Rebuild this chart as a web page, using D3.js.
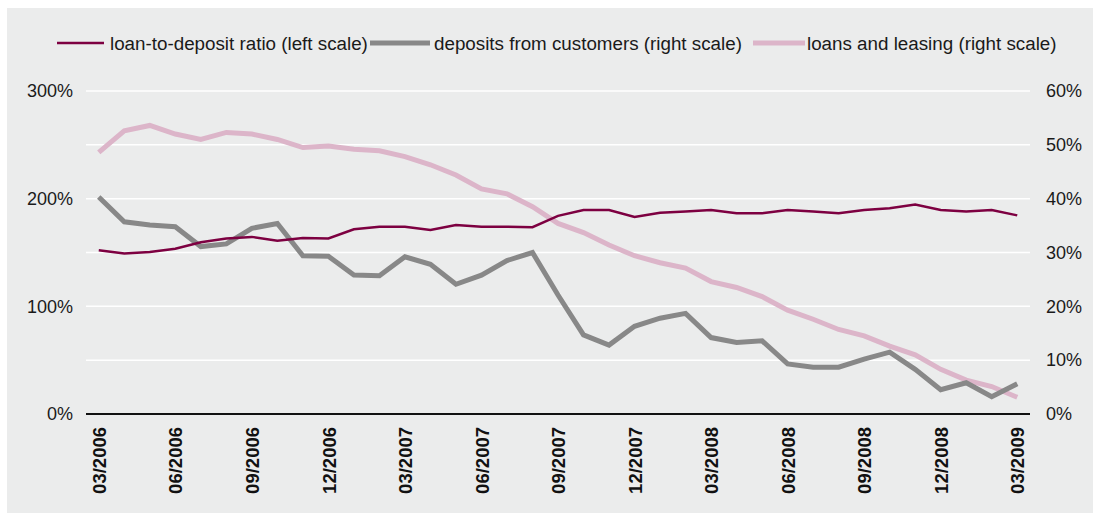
<!DOCTYPE html>
<html>
<head>
<meta charset="utf-8">
<script src="https://cdn.jsdelivr.net/npm/d3@7"></script>
<style>
  html, body { margin: 0; padding: 0; background: #ffffff; }
  svg { display: block; font-family: "Liberation Sans", Arial, Helvetica, sans-serif; }
</style>
</head>
<body>
<svg id="chart" width="1093" height="513"></svg>
<script>
// Monthly observations, 03/2006 – 03/2009
const months = [
  "03/2006","04/2006","05/2006","06/2006","07/2006","08/2006","09/2006","10/2006","11/2006","12/2006",
  "01/2007","02/2007","03/2007","04/2007","05/2007","06/2007","07/2007","08/2007","09/2007","10/2007",
  "11/2007","12/2007","01/2008","02/2008","03/2008","04/2008","05/2008","06/2008","07/2008","08/2008",
  "09/2008","10/2008","11/2008","12/2008","01/2009","02/2009","03/2009"
];
const tickLabels = ["03/2006","06/2006","09/2006","12/2006","03/2007","06/2007","09/2007","12/2007",
  "03/2008","06/2008","09/2008","12/2008","03/2009"];

// loan-to-deposit ratio, % (left scale)
const loanToDeposit = [
  152, 149, 150.5, 153.5, 159.5, 163, 164.5, 161, 163.5, 163,
  171.5, 174, 174, 171, 175.5, 174, 174, 173.5, 184, 189.5,
  189.5, 183, 187, 188, 189.5, 186.5, 186.5, 189.5, 188, 186.5,
  189.5, 191, 194.5, 189.5, 188, 189.5, 184.5
];
// deposits from customers, % (right scale)
const deposits = [
  40.3, 35.7, 35.1, 34.8, 31.1, 31.6, 34.5, 35.4, 29.4, 29.3,
  25.8, 25.7, 29.2, 27.8, 24.1, 25.8, 28.5, 30.0, 22.1, 14.7,
  12.8, 16.3, 17.8, 18.7, 14.2, 13.3, 13.6, 9.3, 8.7, 8.7,
  10.2, 11.5, 8.3, 4.5, 5.8, 3.2, 5.6
];
// loans and leasing, % (right scale)
const loans = [
  48.6, 52.6, 53.6, 52.0, 51.0, 52.3, 52.0, 51.0, 49.5, 49.8,
  49.2, 48.9, 47.8, 46.3, 44.4, 41.8, 40.9, 38.5, 35.4, 33.7,
  31.4, 29.4, 28.1, 27.1, 24.6, 23.5, 21.8, 19.3, 17.6, 15.7,
  14.5, 12.6, 11.0, 8.3, 6.3, 5.1, 3.1
];
const leftTicks = [0, 100, 200, 300];
const rightTicks = [0, 10, 20, 30, 40, 50, 60];
const gridTicks = [0, 10, 20, 30, 40, 50, 60];

const legendItems = [
  { label: "loan-to-deposit ratio (left scale)", color: "#7d0041", width: 2.5 },
  { label: "deposits from customers (right scale)", color: "#888888", width: 5 },
  { label: "loans and leasing (right scale)", color: "#dcb5c9", width: 5 }
];

const svg = d3.select("#chart");
const W = 1093, H = 513;
const plot = { left: 86, right: 1030, top: 91, bottom: 414 };

// panel background
svg.append("rect").attr("x", 7).attr("y", 8).attr("width", W - 7).attr("height", H - 8)
  .attr("fill", "#ebecec");

const x = d3.scalePoint().domain(months).range([plot.left, plot.right]).padding(0.5);
const yLeft = d3.scaleLinear().domain([0, 300]).range([plot.bottom, plot.top]);
const yRight = d3.scaleLinear().domain([0, 60]).range([plot.bottom, plot.top]);

// horizontal gridlines
svg.append("g").selectAll("line").data(gridTicks.filter(d => d > 0)).join("line")
  .attr("x1", plot.left).attr("x2", plot.right)
  .attr("y1", d => yRight(d)).attr("y2", d => yRight(d))
  .attr("stroke", "#ffffff").attr("stroke-width", 1.5);

// left axis labels
const leftAxis = d3.axisLeft(yLeft).tickValues(leftTicks).tickFormat(d => d + "%").tickSize(0).tickPadding(0);
const gL = svg.append("g").attr("transform", `translate(${plot.left - 13},0)`).call(leftAxis);
gL.select(".domain").remove();
gL.selectAll("text").attr("font-size", 18).attr("fill", "#1a1a1a")
  .attr("font-family", "'Liberation Sans', Arial, Helvetica, sans-serif");

// right axis labels
const rightAxis = d3.axisRight(yRight).tickValues(rightTicks).tickFormat(d => d + "%").tickSize(0).tickPadding(0);
const gR = svg.append("g").attr("transform", `translate(${plot.right + 16},0)`).call(rightAxis);
gR.select(".domain").remove();
gR.selectAll("text").attr("font-size", 18).attr("fill", "#1a1a1a")
  .attr("font-family", "'Liberation Sans', Arial, Helvetica, sans-serif");

// bottom axis: baseline plus rotated month labels
const bottomAxis = d3.axisBottom(x).tickValues(tickLabels).tickSize(0).tickPadding(0);
const gB = svg.append("g").attr("transform", `translate(0,${plot.bottom})`).call(bottomAxis);
gB.select(".domain").remove();
gB.selectAll("text")
  .attr("font-size", 18.5).attr("font-weight", "bold").attr("fill", "#111111")
  .attr("font-family", "'Liberation Sans', Arial, Helvetica, sans-serif")
  .attr("text-anchor", "end")
  .attr("transform", "rotate(-90)")
  .attr("x", -13).attr("y", 0).attr("dy", "0.36em");
svg.append("line")
  .attr("x1", plot.left).attr("x2", plot.right)
  .attr("y1", yLeft(0)).attr("y2", yLeft(0))
  .attr("stroke", "#111111").attr("stroke-width", 2);

// series
const lineL = d3.line().x((d, i) => x(months[i])).y(d => yLeft(d));
const lineR = d3.line().x((d, i) => x(months[i])).y(d => yRight(d));

svg.append("path").datum(loans).attr("d", lineR)
  .attr("fill", "none").attr("stroke", legendItems[2].color).attr("stroke-width", 5)
  .attr("stroke-linejoin", "miter");
svg.append("path").datum(deposits).attr("d", lineR)
  .attr("fill", "none").attr("stroke", legendItems[1].color).attr("stroke-width", 5)
  .attr("stroke-linejoin", "miter");
svg.append("path").datum(loanToDeposit).attr("d", lineL)
  .attr("fill", "none").attr("stroke", legendItems[0].color).attr("stroke-width", 2.5)
  .attr("stroke-linejoin", "miter");

// legend
const legendPos = [
  { x1: 57, x2: 104, tx: 110 },
  { x1: 370, x2: 430, tx: 434 },
  { x1: 753, x2: 805, tx: 807 }
];
const legY = 43;
const lg = svg.append("g");
legendItems.forEach((it, i) => {
  const p = legendPos[i];
  lg.append("line").attr("x1", p.x1).attr("x2", p.x2).attr("y1", legY).attr("y2", legY)
    .attr("stroke", it.color).attr("stroke-width", it.width);
  lg.append("text").attr("x", p.tx).attr("y", legY).attr("dy", "0.35em")
    .attr("font-size", 18.8).attr("fill", "#1a1a1a").text(it.label);
});
</script>
</body>
</html>
